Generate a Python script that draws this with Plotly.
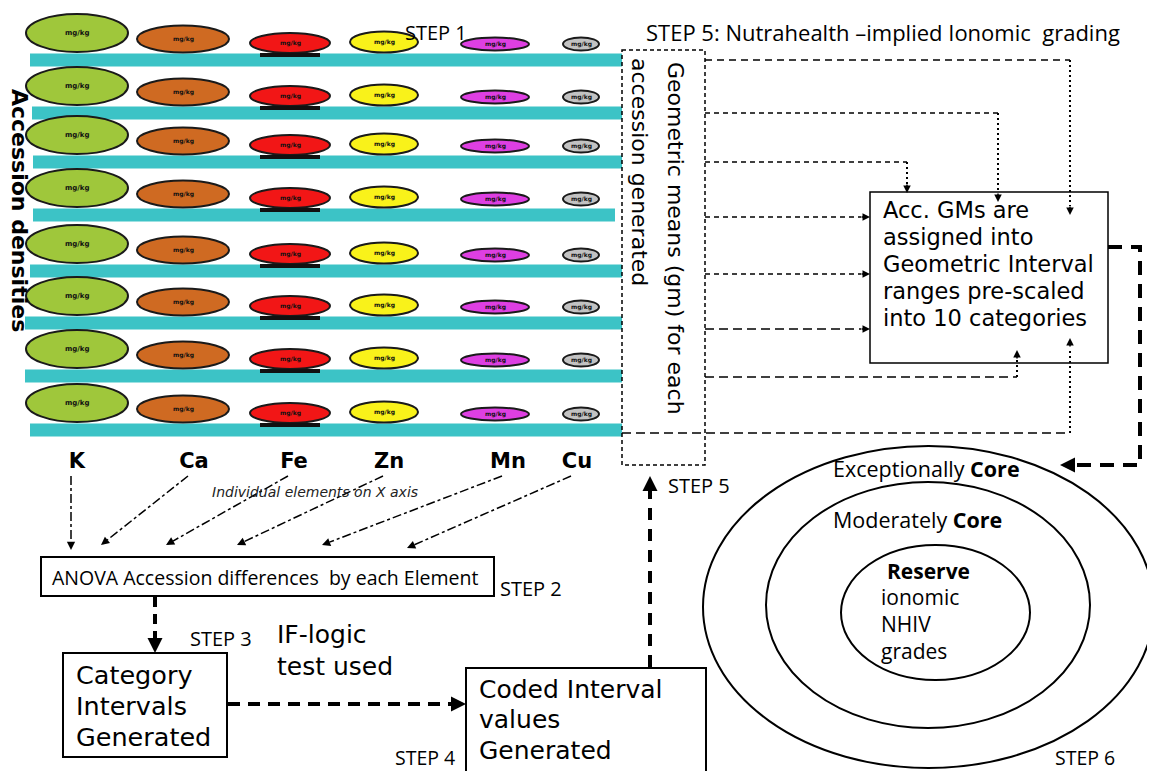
import plotly.graph_objects as go

# ---------------- data (texts / categories) ----------------
elements = ["K", "Ca", "Fe", "Zn", "Mn", "Cu"]
accessions = ["Acc1", "Acc2", "Acc3", "Acc4", "Acc5", "Acc6", "Acc7", "Acc8"]
element_colors = ["#9fc73b", "#cf6a22", "#f21616", "#f9f21a", "#de3fe2", "#c2c2c2"]
ellipse_label = "mg/kg"
y_title = "Accession densities"
axis_note = "Individual elements on X axis"
title_text = "STEP 5: Nutrahealth \u2013implied Ionomic  grading"
step_labels = ["STEP 1", "STEP 2", "STEP 3", "STEP 4", "STEP 5", "STEP 6"]
anova_text = "ANOVA Accession differences  by each Element"
category_lines = ["Category", "Intervals", "Generated"]
coded_lines = ["Coded Interval", "values", "Generated"]
iflogic_lines = ["IF-logic", "test used"]
gm_vertical = ["Geometric means (gm) for each", "accession generated"]
gm_box_lines = ["Acc. GMs are", "assigned into", "Geometric Interval",
                "ranges pre-scaled", "into 10 categories"]
core_grades = ["Exceptionally <b>Core</b>", "Moderately <b>Core</b>", "<b>Reserve</b>"]
reserve_lines = ["ionomic", "NHIV", "grades"]

# ---------------- layout geometry (pixels) ----------------
W, H = 1155, 771
PAGE_OFFSET = 8  # browser default body margin
elem_x = [77, 183, 290, 384, 495, 581]
elem_w = [102, 92, 80, 68, 68, 36]
elem_h = [38, 27, 20, 21, 13, 13]
elem_dy = [-27, -21, -17, -18, -16, -16]
label_x = [77, 194, 294, 389, 508, 577]
row_y = [60, 113, 162, 215, 271, 323, 376, 430]
row_x0 = [30, 32, 33, 33, 30, 25, 25, 30]
row_x1 = [622, 622, 622, 615, 622, 622, 622, 622]
anova_tips = [(71, 550), (101, 545), (166, 545), (237, 545), (322, 545), (407, 548)]

ARIAL = "DejaVu Sans"
CALIBRI = "Open Sans"

fig = go.Figure()


def line(x0, y0, x1, y1, width=1.5, dash="solid", color="black"):
    fig.add_shape(type="line", x0=x0, y0=y0, x1=x1, y1=y1, xref="x", yref="y",
                  line=dict(color=color, width=width, dash=dash))


def head(tx, ty, fx, fy, width=1.5, size=1.0):
    fig.add_annotation(x=tx, y=ty, ax=fx, ay=fy, xref="x", yref="y", axref="x", ayref="y",
                       showarrow=True, arrowhead=2, arrowsize=size, arrowwidth=width,
                       arrowcolor="black", text="", standoff=0)


def rect(x0, y0, x1, y1, width=1.5, dash="solid", fill="rgba(0,0,0,0)"):
    fig.add_shape(type="rect", x0=x0, y0=y0, x1=x1, y1=y1, xref="x", yref="y",
                  line=dict(color="black", width=width, dash=dash), fillcolor=fill)


def text(x, y, s, size=17, family=CALIBRI, anchor="left", angle=0, color="black"):
    fig.add_annotation(x=x, y=y, xref="x", yref="y", text=s, showarrow=False,
                       xanchor=anchor, yanchor="middle", textangle=angle,
                       font=dict(family=family, size=size, color=color))


# invisible anchor trace so the axes exist
fig.add_trace(go.Scatter(x=[PAGE_OFFSET, W], y=[PAGE_OFFSET, H], mode="markers",
                         marker=dict(opacity=0), hoverinfo="skip", showlegend=False))

# ---------------- accession rows ----------------
for r, acc in enumerate(accessions):
    by = row_y[r]
    fig.add_shape(type="rect", x0=row_x0[r], x1=row_x1[r], y0=by - 6.5, y1=by + 6.5,
                  xref="x", yref="y", line=dict(width=0), fillcolor="#3cc3c6", layer="below")
    for e, el in enumerate(elements):
        cx, cy = elem_x[e], by + elem_dy[e]
        fig.add_shape(type="circle", x0=cx - elem_w[e] / 2, x1=cx + elem_w[e] / 2,
                      y0=cy - elem_h[e] / 2, y1=cy + elem_h[e] / 2, xref="x", yref="y",
                      line=dict(color="#1a1a1a", width=2), fillcolor=element_colors[e])
        fig.add_annotation(x=cx, y=cy, xref="x", yref="y", text="<b>" + ellipse_label + "</b>",
                           showarrow=False, font=dict(family=ARIAL, size=6 if e else 7, color="#111"))
        if el == "Fe":
            fig.add_shape(type="rect", x0=cx - 30, x1=cx + 30, y0=by - 7, y1=by - 3,
                          xref="x", yref="y", line=dict(width=0), fillcolor="#111")

# element labels on x axis
fig.add_trace(go.Scatter(x=label_x, y=[463] * len(elements), mode="text", text=elements,
                         textfont=dict(family=ARIAL, size=21, color="black", weight="bold"),
                         hoverinfo="skip", showlegend=False))

text(20, 210, "<b>" + y_title + "</b>", size=22, family=ARIAL, anchor="center", angle=90)
text(315, 492, "<i>" + axis_note + "</i>", size=14, family=ARIAL, anchor="center", color="#222")

# element -> ANOVA arrows
for e, el in enumerate(elements):
    sx, sy = label_x[e] - 6, 476
    tx, ty = anova_tips[e]
    dx, dy = tx - sx, ty - sy
    L = (dx * dx + dy * dy) ** 0.5
    ux, uy = dx / L, dy / L
    line(sx, sy, tx - ux * 8, ty - uy * 8, width=1.5, dash="dashdot")
    head(tx, ty, tx - ux * 9, ty - uy * 9, width=1.5, size=1.1)

# ---------------- lower-left flow ----------------
rect(41, 557, 494, 596, width=2)
text(50, 577, anova_text, size=19.5)
text(498, 588, step_labels[1], size=20)

line(155, 597, 155, 640, width=4, dash="10px,7px")
head(155, 653, 155, 641, width=3, size=1)
text(188, 638, step_labels[2], size=20)
text(275, 634, iflogic_lines[0], size=25, family=ARIAL)
text(275, 666, iflogic_lines[1], size=25, family=ARIAL)

rect(63, 653, 227, 757, width=2)
for i, s in enumerate(category_lines):
    text(74, 675 + 31 * i, s, size=25.5, family=ARIAL)

line(228, 704, 452, 704, width=4, dash="12px,8px")
head(466, 704, 452, 704, width=3, size=1)

rect(466, 668, 706, 790, width=2)
for i, s in enumerate(coded_lines):
    text(477, 689 + 30.5 * i, s, size=25, family=ARIAL)
text(393, 757, step_labels[3], size=19.5)

line(650, 667, 650, 490, width=4, dash="12px,9px")
head(650, 476, 650, 490, width=3, size=1)
text(666, 485, step_labels[4], size=20)

# ---------------- top texts ----------------
text(403, 32, step_labels[0], size=20)
text(644, 32, title_text, size=22)

# ---------------- GM dashed box ----------------
rect(622, 50, 705, 465, width=1.5, dash="4px,3px")
text(676, 238, gm_vertical[0], size=22, family=ARIAL, anchor="center", angle=90)
text(640, 172, gm_vertical[1], size=22, family=ARIAL, anchor="center", angle=90)

# ---------------- connectors to the GM-interval box ----------------
rect(870, 192, 1108, 363, width=1.5)
for i, s in enumerate(gm_box_lines):
    text(881, 210 + 27 * i, s, size=22.5, family=ARIAL)

dotv = "2px,3px"
# from top, going down into the box
line(705, 60, 1070, 60, dash="7px,5px")
line(1070, 60, 1070, 206, width=2, dash=dotv)
head(1070, 215, 1070, 205)
line(705, 113, 998, 113, dash="5px,4px")
line(998, 113, 998, 193, width=2, dash=dotv)
head(998, 202, 998, 192)
line(705, 162, 907, 162, dash="5px,4px")
line(907, 162, 907, 184, width=2, dash=dotv)
head(907, 193, 907, 183)
# straight into the left side
line(705, 217, 861, 217, dash="5px,4px")
head(870, 217, 860, 217)
line(705, 274, 861, 274, dash="5px,4px")
head(870, 274, 860, 274)
line(705, 329, 861, 329, dash="9px,5px")
head(870, 329, 860, 329)
# from below, going up into the box
line(705, 377, 1017, 377, dash="9px,5px")
line(1017, 377, 1017, 360, width=2, dash=dotv)
head(1017, 350, 1017, 360)
line(622, 433, 1070, 433, dash="9px,5px")
line(1070, 433, 1070, 348, width=2, dash=dotv)
head(1070, 338, 1070, 348)

# thick loop to the core circles
fig.add_shape(type="path", path="M 1108 247 L 1140 247 L 1140 465 L 1075 465",
              xref="x", yref="y", line=dict(color="black", width=4, dash="14px,9px"))
head(1060, 465, 1075, 465, width=3, size=1)

# ---------------- core circles ----------------
fig.add_shape(type="circle", x0=703, x1=1154, y0=446, y1=768, xref="x", yref="y",
              line=dict(color="black", width=2))
fig.add_shape(type="circle", x0=766, x1=1090, y0=482, y1=728, xref="x", yref="y",
              line=dict(color="black", width=2))
fig.add_shape(type="circle", x0=841, x1=1030, y0=545, y1=680, xref="x", yref="y",
              line=dict(color="black", width=2))
text(831, 468, core_grades[0], size=21.5)
text(831, 519, core_grades[1], size=21.5)
text(885, 571, core_grades[2], size=21)
for i, s in enumerate(reserve_lines):
    text(879, 597 + 27 * i, s, size=21)
text(1053, 757, step_labels[5], size=19.5)

fig.update_layout(
    width=W, height=H, margin=dict(l=0, r=0, t=0, b=0),
    paper_bgcolor="white", plot_bgcolor="white", showlegend=False,
    xaxis=dict(range=[PAGE_OFFSET, W + PAGE_OFFSET], visible=False, fixedrange=True),
    yaxis=dict(range=[H + PAGE_OFFSET, PAGE_OFFSET], visible=False, fixedrange=True),
)

fig.write_html("out.html")
